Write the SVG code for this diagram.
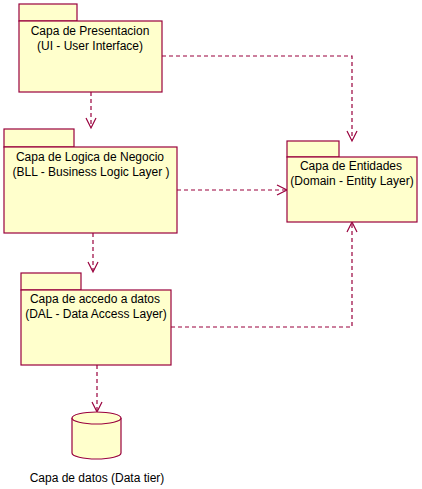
<svg xmlns="http://www.w3.org/2000/svg" width="422" height="489" viewBox="0 0 422 489">
<style>
.box{fill:#FFFFCC;stroke:#99003D;stroke-width:1.2}
.t{font-family:"Liberation Sans",Arial,sans-serif;font-size:12px;fill:#000;text-anchor:middle}
.c{fill:none;stroke:#99003D;stroke-width:1.2;stroke-dasharray:4 3}
.h{fill:none;stroke:#99003D;stroke-width:1.2}
</style>
<rect width="422" height="489" fill="#fff"/>
<g id="connectors">
<path class="c" d="M91,92 V127"/>
<path class="h" d="M86,118 L91,128 L96,118"/>
<path class="c" d="M162,56 H352 V140"/>
<path class="h" d="M347,131 L352,141 L357,131"/>
<path class="c" d="M177,190 H286"/>
<path class="h" d="M277,185 L287,190 L277,195"/>
<path class="c" d="M93,233 V271"/>
<path class="h" d="M88,262 L93,272 L98,262"/>
<path class="c" d="M171,327 H352 V223"/>
<path class="h" d="M347,232 L352,222 L357,232"/>
<path class="c" d="M97,365 V411"/>
<path class="h" d="M92,402 L97,412 L102,402"/>
</g>
<g id="ui">
<rect class="box" x="19" y="4" width="58" height="17"/>
<rect class="box" x="19" y="21" width="143" height="71"/>
<text class="t" x="90" y="35">Capa de Presentacion</text>
<text class="t" x="90" y="50">(UI - User Interface)</text>
</g>
<g id="bll">
<rect class="box" x="4" y="129" width="70" height="18"/>
<rect class="box" x="4" y="147" width="173" height="86"/>
<text class="t" x="90" y="161">Capa de Logica de Negocio</text>
<text class="t" x="91" y="176">(BLL - Business Logic Layer )</text>
</g>
<g id="entidades">
<rect class="box" x="287" y="141" width="52" height="16"/>
<rect class="box" x="287" y="157" width="130" height="65"/>
<text class="t" x="351" y="170">Capa de Entidades</text>
<text class="t" x="352" y="185">(Domain - Entity Layer)</text>
</g>
<g id="dal">
<rect class="box" x="21" y="273" width="60" height="17"/>
<rect class="box" x="21" y="290" width="150" height="75"/>
<text class="t" x="95" y="303">Capa de accedo a datos</text>
<text class="t" x="96" y="318">(DAL - Data Access Layer)</text>
</g>
<g id="datos">
<path class="box" d="M72,418 V453 A24.5,6 0 0 0 121,453 V418"/>
<ellipse class="box" cx="96.5" cy="418" rx="24.5" ry="6"/>
<text class="t" x="97" y="482">Capa de datos (Data tier)</text>
</g>
</svg>
